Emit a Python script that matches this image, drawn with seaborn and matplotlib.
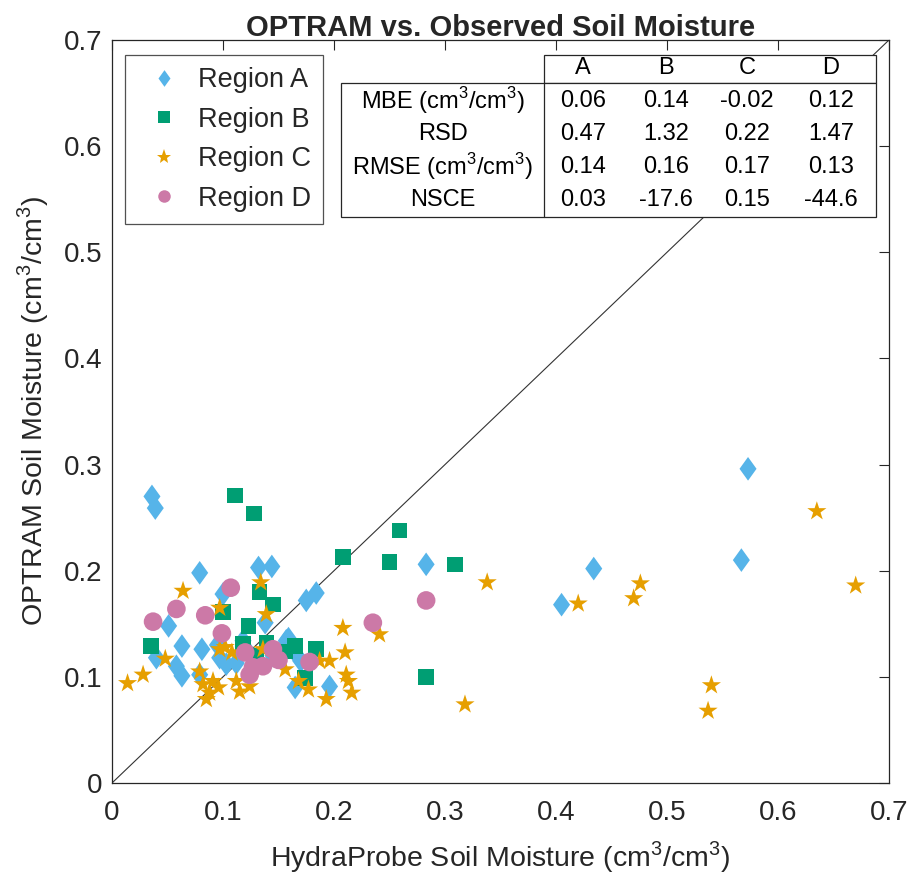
import numpy as np
import pandas as pd
import matplotlib
matplotlib.use("Agg")
import matplotlib.pyplot as plt
import seaborn as sns
from matplotlib.lines import Line2D
from matplotlib.patches import Rectangle
from matplotlib.path import Path

# ---- data ----
a_x = [0.036, 0.039, 0.079, 0.132, 0.144, 0.100, 0.175, 0.184, 0.051, 0.063, 0.040, 0.058,
       0.063, 0.081, 0.097, 0.079, 0.103, 0.118, 0.138, 0.157, 0.163, 0.159, 0.165, 0.196,
       0.112, 0.283, 0.405, 0.434, 0.567, 0.573, 0.095, 0.125, 0.145, 0.170]
a_y = [0.270, 0.259, 0.198, 0.203, 0.204, 0.178, 0.172, 0.179, 0.148, 0.129, 0.118, 0.110,
       0.101, 0.126, 0.118, 0.102, 0.112, 0.134, 0.151, 0.134, 0.126, 0.136, 0.090, 0.091,
       0.113, 0.206, 0.168, 0.202, 0.210, 0.296, 0.130, 0.120, 0.120, 0.115]

b_x = [0.111, 0.128, 0.259, 0.208, 0.250, 0.309, 0.283, 0.035, 0.100, 0.133, 0.145, 0.123,
       0.118, 0.139, 0.165, 0.184, 0.174, 0.130, 0.156]
b_y = [0.271, 0.254, 0.238, 0.213, 0.208, 0.206, 0.100, 0.129, 0.161, 0.180, 0.168, 0.148,
       0.131, 0.132, 0.129, 0.126, 0.099, 0.120, 0.124]

c_x = [0.014, 0.028, 0.048, 0.064, 0.097, 0.134, 0.139, 0.079, 0.082, 0.085, 0.091, 0.096,
       0.097, 0.108, 0.112, 0.115, 0.124, 0.136, 0.156, 0.168, 0.177, 0.187, 0.196, 0.193,
       0.208, 0.210, 0.211, 0.213, 0.216, 0.241, 0.338, 0.318, 0.420, 0.476, 0.470, 0.540,
       0.537, 0.635, 0.670, 0.102, 0.088]
c_y = [0.094, 0.102, 0.117, 0.181, 0.165, 0.189, 0.159, 0.105, 0.093, 0.079, 0.096, 0.090,
       0.126, 0.123, 0.096, 0.086, 0.091, 0.126, 0.107, 0.096, 0.088, 0.115, 0.115, 0.079,
       0.146, 0.123, 0.102, 0.096, 0.085, 0.140, 0.189, 0.074, 0.169, 0.188, 0.174, 0.092,
       0.068, 0.256, 0.186, 0.128, 0.085]

d_x = [0.037, 0.058, 0.084, 0.107, 0.099, 0.120, 0.124, 0.127, 0.136, 0.145, 0.150, 0.178,
       0.235, 0.283]
d_y = [0.152, 0.164, 0.158, 0.184, 0.141, 0.123, 0.102, 0.109, 0.110, 0.126, 0.116, 0.114,
       0.151, 0.172]

regions = ["Region A", "Region B", "Region C", "Region D"]
colors = ["#56B4E9", "#009E73", "#E69F00", "#CC79A7"]

table_cols = ["A", "B", "C", "D"]
table_rows = ["MBE (cm$^3$/cm$^3$)", "RSD", "RMSE (cm$^3$/cm$^3$)", "NSCE"]
table_vals = [["0.06", "0.14", "-0.02", "0.12"],
              ["0.47", "1.32", "0.22", "1.47"],
              ["0.14", "0.16", "0.17", "0.13"],
              ["0.03", "-17.6", "0.15", "-44.6"]]

ticks = [0, 0.1, 0.2, 0.3, 0.4, 0.5, 0.6, 0.7]

# MATLAB-like diamond (taller than wide)
diamond = Path([(0, 1), (0.72, 0), (0, -1), (-0.72, 0), (0, 1)],
               [Path.MOVETO, Path.LINETO, Path.LINETO, Path.LINETO, Path.CLOSEPOLY])
markers = [diamond, "s", "*", "o"]
sizes = [290, 125, 210, 180]

# ---- figure ----
sns.set_theme(style="white")
plt.rcParams["font.family"] = ["Liberation Sans", "DejaVu Sans"]
plt.rcParams["mathtext.fontset"] = "custom"
plt.rcParams["mathtext.rm"] = "Liberation Sans"

W, H = 913, 884
fig = plt.figure(figsize=(W / 100, H / 100), dpi=100)
L, R, B, T = 112, 889, 783, 40
ax = fig.add_axes([L / W, 1 - B / H, (R - L) / W, (B - T) / H])

ax.plot([0, 0.7], [0, 0.7], color="#333333", lw=0.8, zorder=1)

xs = [a_x, b_x, c_x, d_x]
ys = [a_y, b_y, c_y, d_y]
for reg, x, y, col, mk, sz in zip(regions, xs, ys, colors, markers, sizes):
    df = pd.DataFrame({"x": x, "y": y})
    sns.scatterplot(data=df, x="x", y="y", ax=ax, color=col, marker=mk, s=sz,
                    edgecolor="none", linewidth=0, legend=False, zorder=2)

ax.set_xlim(0, 0.7)
ax.set_ylim(0, 0.7)
ax.set_xticks(ticks)
ax.set_yticks(ticks)
fmt = lambda v, p: "%g" % v
ax.xaxis.set_major_formatter(plt.FuncFormatter(fmt))
ax.yaxis.set_major_formatter(plt.FuncFormatter(fmt))
ax.tick_params(direction="in", length=7, width=0.8, colors="#262626", labelsize=20,
               top=True, right=True, labeltop=False, labelright=False)
ax.tick_params(axis="x", pad=12)
ax.tick_params(axis="y", pad=7)
for s in ax.spines.values():
    s.set_color("#262626")
    s.set_linewidth(0.9)
    s.set_visible(True)

ax.set_xlabel("HydraProbe Soil Moisture (cm$^3$/cm$^3$)", fontsize=20.5, color="#262626", labelpad=10)
ax.set_ylabel("OPTRAM Soil Moisture (cm$^3$/cm$^3$)", fontsize=20.5, color="#262626", labelpad=9)
ax.set_title("OPTRAM vs. Observed Soil Moisture", fontsize=21, fontweight="bold", pad=3)

# ---- legend ----
handles = [Line2D([], [], linestyle="none", marker=m, color=c, markersize=ms, markeredgewidth=0)
           for m, c, ms in zip(markers, colors, [12, 8, 11, 9])]
leg = ax.legend(handles, regions, loc="upper left",
                bbox_to_anchor=((125 - L) / (R - L), (B - 55) / (B - T)),
                fontsize=19.5, frameon=True, fancybox=False, borderpad=0.45,
                labelspacing=0.5, handletextpad=0.25, handlelength=2.0, borderaxespad=0)
leg.get_frame().set_edgecolor("#262626")
leg.get_frame().set_linewidth(0.9)
leg.set_zorder(5)

# ---- table ----
def fx(px):
    return (px - L) / (R - L)

def fy(py):
    return (B - py) / (B - T)

tl, tdiv, tr = 341, 544, 876
ttop, thead, tbot = 55, 83, 217
ax.add_patch(Rectangle((fx(tdiv), fy(thead)), fx(tr) - fx(tdiv), fy(ttop) - fy(thead),
                       transform=ax.transAxes, facecolor="white", edgecolor="#262626",
                       lw=0.9, zorder=6))
ax.add_patch(Rectangle((fx(tl), fy(tbot)), fx(tr) - fx(tl), fy(thead) - fy(tbot),
                       transform=ax.transAxes, facecolor="white", edgecolor="#262626",
                       lw=0.9, zorder=6))
ax.plot([fx(tdiv), fx(tdiv)], [fy(tbot), fy(thead)], transform=ax.transAxes,
        color="#262626", lw=0.9, zorder=7)

col_x = [583, 666, 747, 831]
row_y = [101, 134, 167, 200]
for cx, lab in zip(col_x, table_cols):
    ax.text(fx(cx), fy(68), lab, transform=ax.transAxes, ha="center", va="center",
            fontsize=17, zorder=8, color="black")
for ry, rlab, vals in zip(row_y, table_rows, table_vals):
    ax.text(fx((tl + tdiv) / 2), fy(ry), rlab, transform=ax.transAxes, ha="center",
            va="center", fontsize=17, zorder=8, color="black")
    for cx, v in zip(col_x, vals):
        ax.text(fx(cx), fy(ry), v, transform=ax.transAxes, ha="center", va="center",
                fontsize=17, zorder=8, color="black")

fig.savefig("out.png", dpi=100)
